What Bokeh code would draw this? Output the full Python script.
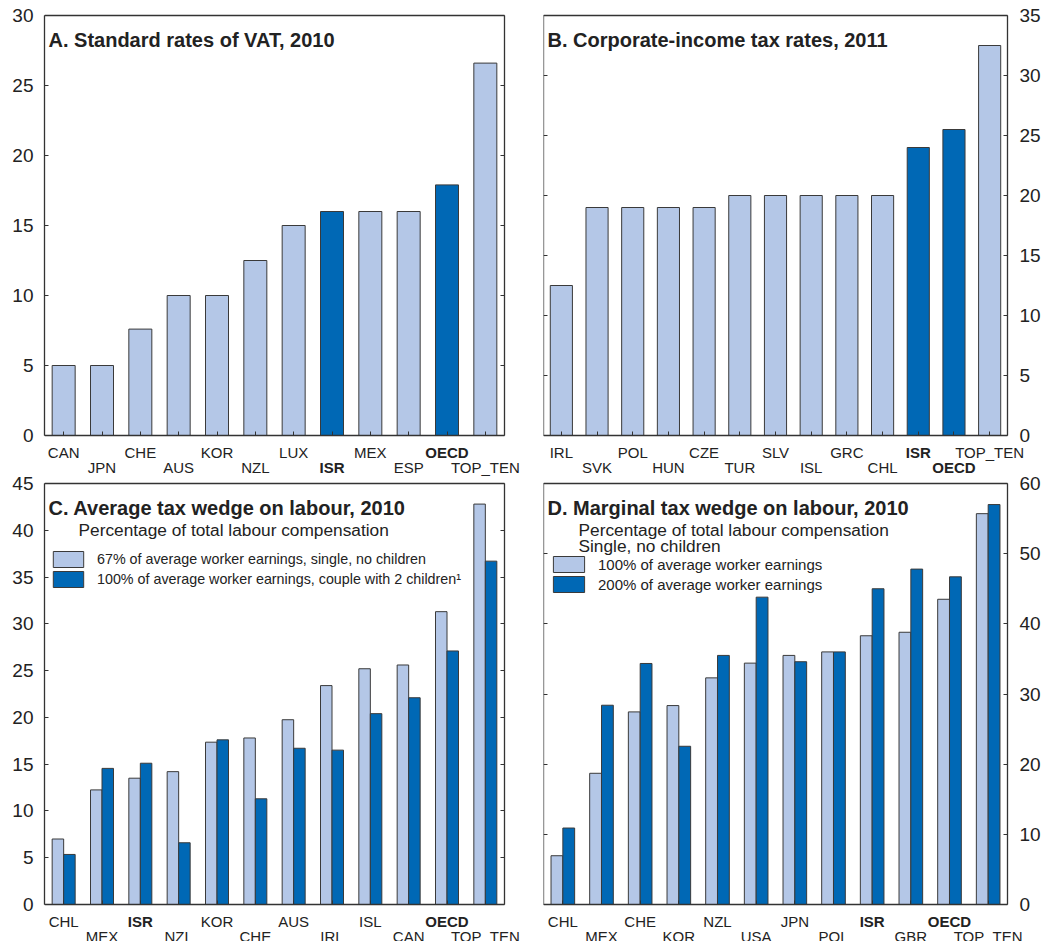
from bokeh.plotting import figure
from bokeh.models import (Range1d, FixedTicker, LinearAxis, LabelSet, Label,
                          ColumnDataSource, Legend, LegendItem, CustomJSTickFormatter)
from bokeh.core.properties import value
from bokeh.layouts import gridplot
from bokeh.transform import dodge
from bokeh.embed import file_html
from bokeh.resources import INLINE

# ---------------- data ----------------
vat_countries = ["CAN", "JPN", "CHE", "AUS", "KOR", "NZL", "LUX", "ISR", "MEX", "ESP", "OECD", "TOP_TEN"]
vat_rates = [5, 5, 7.6, 10, 10, 12.5, 15, 16, 16, 16, 17.9, 26.6]

cit_countries = ["IRL", "SVK", "POL", "HUN", "CZE", "TUR", "SLV", "ISL", "GRC", "CHL", "ISR", "OECD", "TOP_TEN"]
cit_rates = [12.5, 19, 19, 19, 19, 20, 20, 20, 20, 20, 24, 25.5, 32.5]

avg_countries = ["CHL", "MEX", "ISR", "NZL", "KOR", "CHE", "AUS", "IRL", "ISL", "CAN", "OECD", "TOP_TEN"]
avg_single_67 = [7.0, 12.25, 13.5, 14.2, 17.35, 17.8, 19.75, 23.4, 25.2, 25.6, 31.3, 42.8]
avg_couple_100 = [5.35, 14.55, 15.1, 6.6, 17.6, 11.3, 16.7, 16.5, 20.4, 22.1, 27.1, 36.7]

mrg_countries = ["CHL", "MEX", "CHE", "KOR", "NZL", "USA", "JPN", "POL", "ISR", "GBR", "OECD", "TOP_TEN"]
mrg_100 = [6.95, 18.7, 27.45, 28.35, 32.3, 34.4, 35.5, 36.0, 38.3, 38.8, 43.5, 55.7]
mrg_200 = [10.9, 28.4, 34.35, 22.55, 35.5, 43.8, 34.6, 36.0, 45.0, 47.8, 46.7, 57.0]

highlight = ["ISR", "OECD"]

# ---------------- style ----------------
LIGHT = "#b4c7e7"
DARK = "#0068b5"
EDGE = "#3a3a3a"
FRAME = "#333333"
TXT = "#222222"
FONT = "Liberation Sans"
EMPTY = CustomJSTickFormatter(code="return ''")


def style_axis(ax, tick_in=4):
    ax.major_tick_in = tick_in
    ax.major_tick_out = 0
    ax.minor_tick_line_color = None
    ax.axis_line_color = FRAME
    ax.axis_line_width = 1.3
    ax.major_tick_line_color = FRAME
    ax.major_tick_line_width = 1


def make_panel(countries, ymax, step, side, box_w, box_h, ext_t, ext_b, ext_r,
               bl, bt, title):
    """box_w x box_h: the drawn box; the plotting frame extends ext_t px above,
    ext_b px below and ext_r px right of it so that all texts fit."""
    n = len(countries)
    ppu_y = box_h / ymax
    ppu_x = box_w / n
    ymin = -ext_b / ppu_y
    ytop = ymax + ext_t / ppu_y
    xmax = n - 0.5 + ext_r / ppu_x
    p = figure(frame_width=box_w + ext_r, frame_height=box_h + ext_b + ext_t,
               min_border_left=bl, min_border_right=0,
               min_border_top=bt, min_border_bottom=0,
               x_range=Range1d(-0.5, xmax), y_range=Range1d(ymin, ytop),
               x_axis_location=None, y_axis_location=None,
               toolbar_location=None, output_backend="svg")
    p.grid.visible = False
    p.outline_line_color = None
    p.background_fill_color = "white"
    p.border_fill_color = "white"

    # bottom edge of the box: axis fixed at y = 0, inward ticks at category centres
    xa = LinearAxis(ticker=FixedTicker(ticks=list(range(n))), formatter=EMPTY,
                    fixed_location=0, bounds=(-0.5, n - 0.5))
    style_axis(xa)
    xa.major_label_standoff = 0
    p.add_layout(xa, "below")

    # top edge of the box
    ta = LinearAxis(ticker=FixedTicker(ticks=[]), formatter=EMPTY,
                    fixed_location=ymax, bounds=(-0.5, n - 0.5))
    style_axis(ta, 0)
    ta.major_label_standoff = 0
    p.add_layout(ta, "above")

    yt = list(range(0, ymax + 1, step))
    for loc in ("left", "right"):
        ya = LinearAxis(ticker=FixedTicker(ticks=yt), bounds=(0, ymax))
        style_axis(ya)
        if not (loc == "left" and side == "left"):
            ya.fixed_location = -0.5 if loc == "left" else n - 0.5
        if loc == side:
            ya.major_label_text_font_size = "19px"
            ya.major_label_text_font = FONT
            ya.major_label_text_color = TXT
            ya.major_label_standoff = 11 if side == "left" else 12
        else:
            ya.formatter = EMPTY
            ya.major_label_standoff = 0
        p.add_layout(ya, loc)

    # category labels in two staggered rows below the box
    lab_src = ColumnDataSource(dict(
        x=list(range(n)),
        y=[(-17 if i % 2 == 0 else -31.5) / ppu_y for i in range(n)],
        text=countries,
        style=["bold" if c in highlight else "normal" for c in countries],
    ))
    p.add_layout(LabelSet(x="x", y="y", text="text", source=lab_src,
                          text_font_style="style",
                          text_align="center", text_baseline="middle",
                          text_font=value(FONT), text_font_size="15px",
                          text_color=TXT))

    p.add_layout(Label(x=-0.5, y=ymax, x_offset=4, y_offset=-24, text=title,
                       text_font=FONT, text_font_size="20px",
                       text_font_style="bold", text_color=TXT,
                       text_baseline="middle", text_align="left"))
    return p


def add_sub(p, ymax, text, xoff, yoff, size="17.3px"):
    p.add_layout(Label(x=-0.5, y=ymax, x_offset=xoff, y_offset=-yoff, text=text,
                       text_font=FONT, text_font_size=size, text_color=TXT,
                       text_baseline="middle", text_align="left"))


# ---------------- panel A ----------------
pA = make_panel(vat_countries, 30, 5, "left", 460, 420, 10, 41, 36, 44, 5,
                "A. Standard rates of VAT, 2010")
srcA = ColumnDataSource(dict(x=list(range(len(vat_countries))), top=vat_rates,
                             color=[DARK if c in highlight else LIGHT for c in vat_countries]))
pA.vbar(x="x", top="top", width=0.6, source=srcA, fill_color="color",
        line_color=EDGE, line_width=1)

# ---------------- panel B ----------------
pB = make_panel(cit_countries, 35, 5, "right", 464, 420, 10, 41, 48, 3, 5,
                "B. Corporate-income tax rates, 2011")
srcB = ColumnDataSource(dict(x=list(range(len(cit_countries))), top=cit_rates,
                             color=[DARK if c in highlight else LIGHT for c in cit_countries]))
pB.vbar(x="x", top="top", width=0.62, source=srcB, fill_color="color",
        line_color=EDGE, line_width=1)

# ---------------- panel C ----------------
pC = make_panel(avg_countries, 45, 5, "left", 460, 421, 7, 37, 36, 44, 0,
                "C. Average tax wedge on labour, 2010")
add_sub(pC, 45, "Percentage of total labour compensation", 34, 46)
srcC = ColumnDataSource(dict(x=list(range(len(avg_countries))),
                             a=avg_single_67, b=avg_couple_100))
rC1 = pC.vbar(x=dodge("x", -0.15), top="a", width=0.3, source=srcC,
              fill_color=LIGHT, line_color=EDGE, line_width=1)
rC2 = pC.vbar(x=dodge("x", 0.15), top="b", width=0.3, source=srcC,
              fill_color=DARK, line_color=EDGE, line_width=1)
legC = Legend(items=[
    LegendItem(label="67% of average worker earnings, single, no children", renderers=[rC1]),
    LegendItem(label="100% of average worker earnings, couple with 2 children\u00b9", renderers=[rC2]),
], location=(5, 352 + 0), glyph_width=38, glyph_height=20, label_height=20,
    spacing=0, padding=0, margin=0, label_standoff=10,
    label_text_font=FONT, label_text_font_size="14.3px", label_text_color=TXT,
    border_line_color=None, background_fill_alpha=0)
pC.add_layout(legC)

# ---------------- panel D ----------------
pD = make_panel(mrg_countries, 60, 10, "right", 464, 421, 7, 37, 48, 3, 0,
                "D. Marginal tax wedge on labour, 2010")
add_sub(pD, 60, "Percentage of total labour compensation", 35, 46)
add_sub(pD, 60, "Single, no children", 35, 62)
srcD = ColumnDataSource(dict(x=list(range(len(mrg_countries))),
                             a=mrg_100, b=mrg_200))
rD1 = pD.vbar(x=dodge("x", -0.153), top="a", width=0.305, source=srcD,
              fill_color=LIGHT, line_color=EDGE, line_width=1)
rD2 = pD.vbar(x=dodge("x", 0.153), top="b", width=0.305, source=srcD,
              fill_color=DARK, line_color=EDGE, line_width=1)
legD = Legend(items=[
    LegendItem(label="100% of average worker earnings", renderers=[rD1]),
    LegendItem(label="200% of average worker earnings", renderers=[rD2]),
], location=(6, 347), glyph_width=39, glyph_height=20, label_height=20,
    spacing=0, padding=0, margin=0, label_standoff=10,
    label_text_font=FONT, label_text_font_size="15px", label_text_color=TXT,
    border_line_color=None, background_fill_alpha=0)
pD.add_layout(legD)

grid = gridplot([[pA, pB], [pC, pD]], toolbar_location=None)

open("out.html", "w").write(file_html(grid, INLINE))
